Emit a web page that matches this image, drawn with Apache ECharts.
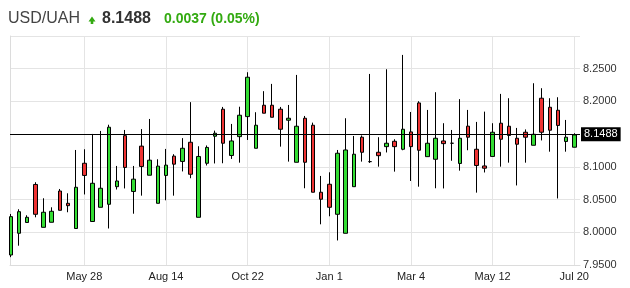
<!DOCTYPE html>
<html><head><meta charset="utf-8">
<script src="https://cdn.jsdelivr.net/npm/echarts@6/dist/echarts.min.js"></script>
<style>html,body{margin:0;padding:0;background:#fff}#c{width:630px;height:288px}</style>
</head><body><div id="c"></div>
<script>
const symbolName = 'USD/UAH';
const lastPrice = 8.1488;
const changeText = '0.0037 (0.05%)';
const tickIndex = [9, 19, 29, 39, 49, 59, 69];
const tickLabels = ['May 28', 'Aug 14', 'Oct 22', 'Jan 1', 'Mar 4', 'May 12', 'Jul 20'];
const opens = [7.9653,7.9985,8.0150,8.0731,8.0076,8.0153,8.0631,8.0443,8.0058,8.1055,
8.0165,8.0382,8.0428,8.0697,8.1477,8.0624,8.1317,8.0872,8.0443,8.0869,
8.1164,8.1083,8.1376,8.0229,8.1055,8.1468,8.1881,8.1174,8.1462,8.1768,
8.1284,8.1942,8.1942,8.1881,8.1713,8.1070,8.1743,8.1636,8.0612,8.0734,
8.0275,7.9985,8.0697,8.1453,8.1080,8.1223,8.1309,8.1391,8.1269,8.1534,
8.1977,8.1156,8.1116,8.1396,8.1361,8.1052,8.1622,8.1269,8.1014,8.1159,
8.1667,8.1621,8.1437,8.1529,8.1330,8.2049,8.1911,8.1865,8.1388,8.1300];
const closes = [8.0239,8.0315,8.0229,8.0275,8.0306,8.0321,8.0336,8.0407,8.0688,8.0869,
8.0749,8.0673,8.1606,8.0784,8.0991,8.0812,8.1006,8.1102,8.1011,8.1026,
8.1041,8.1284,8.0887,8.1159,8.1297,8.1514,8.1361,8.1396,8.1789,8.2370,
8.1636,8.1820,8.1758,8.1575,8.1743,8.1621,8.1070,8.0612,8.0505,8.0382,
8.1208,8.1258,8.1193,8.1223,8.1080,8.1171,8.1361,8.1309,8.1575,8.1309,
8.1254,8.1361,8.1437,8.1355,8.1361,8.1437,8.1453,8.1021,8.0979,8.1529,
8.1422,8.1480,8.1346,8.1453,8.1498,8.1529,8.1560,8.1633,8.1453,8.1488];
const lows = [7.9620,7.9795,8.0147,8.0229,8.0076,8.0153,8.0336,8.0306,8.0058,8.0578,
8.0165,8.0382,8.0058,8.0654,8.0670,8.0284,8.0560,8.0872,8.0443,8.0489,
8.0560,8.0930,8.0826,8.0229,8.1021,8.1052,8.1055,8.1121,8.1064,8.1411,
8.1284,8.1820,8.1758,8.1309,8.1080,8.1070,8.0673,8.0612,8.0122,8.0245,
7.9875,7.9985,8.0697,8.1080,8.1060,8.1003,8.1220,8.0927,8.1254,8.0784,
8.0697,8.1156,8.0673,8.0670,8.1093,8.0942,8.1254,8.0606,8.0914,8.1159,
8.1003,8.1064,8.0716,8.1064,8.1330,8.1404,8.1232,8.0517,8.1232,8.1300];
const highs = [8.0280,8.0352,8.0260,8.0765,8.0520,8.0382,8.0662,8.0596,8.1258,8.1269,
8.1503,8.1549,8.1644,8.1014,8.1564,8.1014,8.1577,8.1732,8.1116,8.1274,
8.1193,8.1439,8.1989,8.1315,8.1327,8.1554,8.1916,8.1656,8.1919,8.2446,
8.1835,8.2157,8.2268,8.1916,8.1946,8.2405,8.1778,8.1676,8.0861,8.0917,
8.1258,8.1743,8.1472,8.1480,8.2420,8.1453,8.2492,8.1422,8.2711,8.1839,
8.2003,8.1870,8.2141,8.1667,8.1564,8.2035,8.1870,8.1687,8.1844,8.1667,
8.2115,8.2049,8.1595,8.1572,8.2278,8.2202,8.2049,8.2064,8.1717,8.1514];

const candles = opens.map((o, i) => [i, o, closes[i], lows[i], highs[i]]);
const labelMap = {};
tickIndex.forEach((t, k) => { labelMap[t] = tickLabels[k]; });
const FONT = 'Arial, "Liberation Sans", sans-serif';
const GREEN = '#33dd33', RED = '#ee3333';

const chart = echarts.init(document.getElementById('c'), null, {renderer: 'canvas'});
chart.setOption({
  animation: false,
  backgroundColor: '#fff',
  grid: {left: 10, right: 50, top: 36, bottom: 23},
  xAxis: {
    type: 'value', min: -0.1, max: 69.7,
    axisLine: {show: true, onZero: false, lineStyle: {color: '#dcdcdc'}},
    axisTick: {show: false, customValues: tickIndex},
    axisLabel: {customValues: tickIndex, formatter: v => labelMap[v] || '', fontSize: 11,
      color: '#222', margin: 6, fontFamily: FONT},
    splitLine: {show: true, lineStyle: {color: '#e4e4e4'}}
  },
  yAxis: [{
    type: 'value', position: 'right', min: 7.95, max: 8.30, interval: 0.05,
    axisLine: {show: false}, axisTick: {show: false},
    axisLabel: {formatter: v => v.toFixed(4), fontSize: 11, color: '#333', margin: 3,
      fontFamily: FONT, showMaxLabel: false},
    splitLine: {show: true, lineStyle: {color: '#e4e4e4'}}
  }, {
    type: 'value', position: 'left', min: 7.95, max: 8.30, interval: 0.05,
    axisLine: {show: true, lineStyle: {color: '#dcdcdc'}}, axisTick: {show: false},
    axisLabel: {show: false}, splitLine: {show: false}
  }],
  series: [{
    type: 'candlestick', data: candles, encode: {x: 0, y: [1, 2, 3, 4]},
    barWidth: 4,
    itemStyle: {color: GREEN, color0: RED, borderColor: '#000', borderColor0: '#000',
      borderColorDoji: '#000', borderWidth: 1},
    markLine: {
      silent: true, symbol: ['none', 'none'],
      lineStyle: {color: '#000', width: 1, type: 'solid'},
      label: {position: 'end', distance: 1, formatter: () => lastPrice.toFixed(4),
        backgroundColor: '#000', color: '#fff', fontSize: 11, fontFamily: FONT,
        padding: [2, 3, 1, 3]},
      data: [{yAxis: lastPrice}]
    }
  }],
  graphic: [
    {type: 'text', left: 8, top: 11, style: {text: symbolName, font: '16px ' + FONT, fill: '#444'}},
    {type: 'polygon', shape: {points: [[88.5, 21.5], [92, 16.5], [95.5, 21.5], [93.3, 21.5], [93.3, 24], [90.7, 24], [90.7, 21.5]]},
      style: {fill: '#33aa11'}},
    {type: 'text', left: 102, top: 11, style: {text: lastPrice.toFixed(4), font: 'bold 16px ' + FONT, fill: '#333'}},
    {type: 'text', left: 164, top: 12, style: {text: changeText, font: 'bold 14px ' + FONT, fill: '#33aa11'}}
  ]
});
</script></body></html>
